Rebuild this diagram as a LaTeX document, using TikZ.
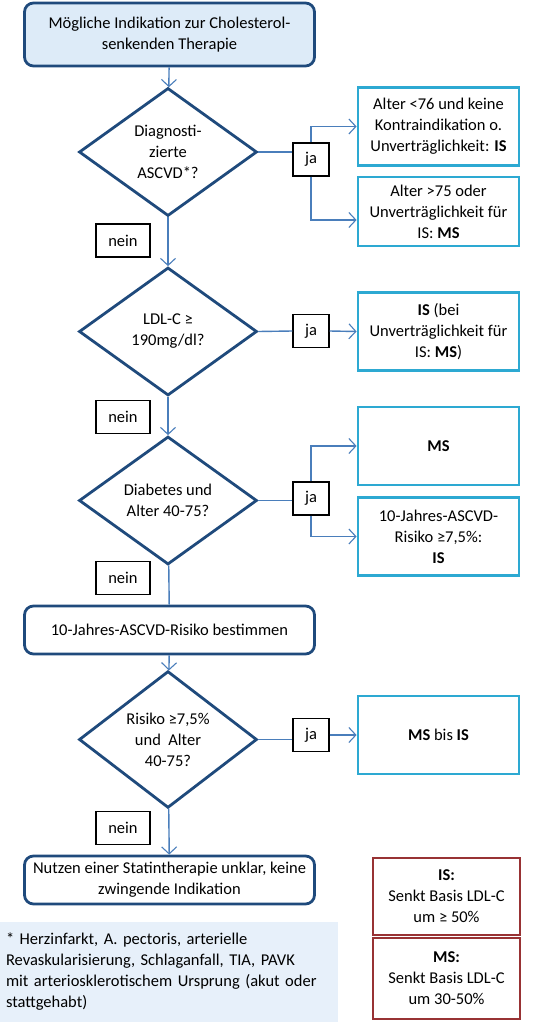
\documentclass[tikz,border=0pt]{standalone}
\usepackage{fontspec}
\setmainfont{Carlito}
\usetikzlibrary{arrows.meta,shapes.geometric,positioning}

\definecolor{nachtblau}{HTML}{1F4A7C}
\definecolor{pfeilblau}{HTML}{4A7EBB}
\definecolor{tuerkis}{HTML}{2DA9D2}
\definecolor{weinrot}{HTML}{983234}
\definecolor{hellblau}{HTML}{DDEBF8}
\definecolor{fussblau}{HTML}{E7F0FA}

\tikzset{
  every node/.style={font=\fontsize{16.5}{21}\selectfont, align=center},
  startbox/.style={draw=nachtblau, line width=2.8pt, rounded corners=9pt,
    fill=hellblau, minimum width=290pt, minimum height=63pt, inner sep=2pt},
  procbox/.style={draw=nachtblau, line width=2.8pt, rounded corners=9pt,
    fill=white, minimum width=290pt, minimum height=48pt, inner sep=2pt},
  frage/.style={diamond, draw=nachtblau, line width=2.8pt, fill=white,
    minimum width=178pt, minimum height=128pt, inner sep=0pt},
  therapie/.style={draw=tuerkis, line width=2.8pt, minimum width=161pt,
    minimum height=78pt, inner sep=2pt},
  antwort/.style={draw=black, line width=1.2pt, minimum height=33pt,
    inner sep=2pt},
  legende/.style={draw=weinrot, line width=2.8pt, minimum width=147pt,
    inner sep=2pt},
  fussnote/.style={fill=fussblau, minimum width=338pt, minimum height=100pt,
    text width=326pt, align=left, inner sep=6pt},
  pfeil/.style={draw=pfeilblau, line width=1.4pt,
    -{Straight Barb[length=7pt,width=15pt,line width=1.1pt]}},
  linie/.style={draw=pfeilblau, line width=1.4pt},
}

\begin{document}
\begin{tikzpicture}[x=1pt,y=-1pt]
  \useasboundingbox (0,0) rectangle (553,1024);

  % Hauptpfad
  \node[startbox] (start) at (169.5,34.5)
    {M\"ogliche Indikation zur Cholesterol-\\senkenden Therapie};
  \node[frage] (ascvd) at (168,152) {Diagnosti-\\zierte\\ASCVD*?};
  \node[frage] (ldl) at (168,331.5) {LDL-C ≥\\190mg/dl?};
  \node[frage] (diab) at (168,500.5) {Diabetes und\\Alter 40-75?};
  \node[procbox] (risiko) at (169.5,630) {10-Jahres-ASCVD-Risiko bestimmen};
  \node[frage] (alter) at (168,739.5) {Risiko ≥7,5\%\\und~ Alter\\40-75?};
  \node[procbox] (unklar) at (169.5,880)
    {Nutzen einer Statintherapie unklar, keine\\zwingende Indikation};

  % ja / nein
  \node[antwort, minimum width=36pt] (ja1) at (311,159.5) {ja};
  \node[antwort, minimum width=36pt] (ja2) at (311,331) {ja};
  \node[antwort, minimum width=36pt] (ja3) at (311,498.5) {ja};
  \node[antwort, minimum width=36pt] (ja4) at (311,735) {ja};
  \node[antwort, minimum width=54pt] (nein1) at (123,240.5) {nein};
  \node[antwort, minimum width=54pt] (nein2) at (123,417) {nein};
  \node[antwort, minimum width=54pt] (nein3) at (123,578) {nein};
  \node[antwort, minimum width=54pt] (nein4) at (123,828) {nein};

  % Therapieempfehlungen
  \node[therapie] (is1) at (438.5,126.5)
    {Alter <76 und keine\\Kontraindikation o.\\Unvertr\"aglichkeit: \textbf{IS}};
  \node[therapie, minimum height=69pt] (ms1) at (438.5,211.5)
    {Alter >75 oder\\Unvertr\"aglichkeit f\"ur\\IS: \textbf{MS}};
  \node[therapie] (is2) at (438.5,331.5)
    {\textbf{IS} (bei\\Unvertr\"aglichkeit f\"ur\\IS: \textbf{MS})};
  \node[therapie] (ms2) at (438.5,446) {\textbf{MS}};
  \node[therapie] (is3) at (438.5,536.5)
    {10-Jahres-ASCVD-\\Risiko ≥7,5\%:\\\textbf{IS}};
  \node[therapie] (ms3) at (438.5,735) {\textbf{MS} bis \textbf{IS}};

  % Legende
  \node[legende, minimum height=77pt] (legIS) at (446.5,896.5)
    {\textbf{IS:}\\Senkt Basis LDL-C\\um ≥ 50\%};
  \node[legende, minimum height=81pt] (legMS) at (446.5,978.5)
    {\textbf{MS:}\\Senkt Basis LDL-C\\um 30-50\%};
  \node[fussnote] (fuss) at (169,972)
    {* Herzinfarkt, A. pectoris, arterielle\\
     Revaskularisierung, Schlaganfall, TIA, PAVK\\
     mit arteriosklerotischem Ursprung (akut oder\\
     stattgehabt)};

  % Verbindungen
  \draw[pfeil] (start) -- (ascvd);
  \draw[pfeil] (ascvd) -- (ldl);
  \draw[pfeil] (ldl) -- (diab);
  \draw[linie] (diab) -- (risiko);
  \draw[pfeil] (risiko) -- (alter);
  \draw[pfeil] (alter) -- (unklar);

  \draw[linie] (ascvd.east) -- (ascvd.east -| ja1.west);
  \draw[pfeil] (ja1.north) |- (is1.west);
  \draw[pfeil] (ja1.south) |- ([yshift=-8.5pt]ms1.west);
  \draw[linie] (ldl.east) -- (ja2.west);
  \draw[pfeil] (ja2.east) -- (is2.west);
  \draw[linie] (diab.east) -- (diab.east -| ja3.west);
  \draw[pfeil] (ja3.north) |- (ms2.west);
  \draw[pfeil] (ja3.south) |- (is3.west);
  \draw[linie] (alter.east) -- (alter.east -| ja4.west);
  \draw[pfeil] (ja4.east) -- (ms3.west);
\end{tikzpicture}
\end{document}
